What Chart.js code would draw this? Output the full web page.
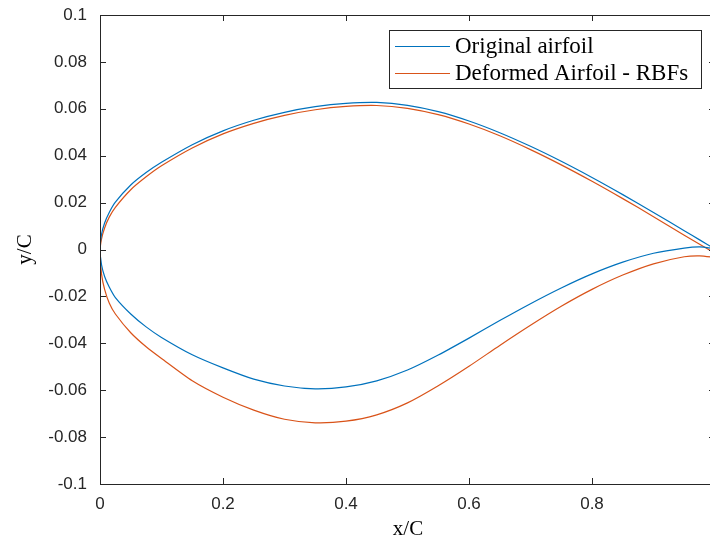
<!DOCTYPE html>
<html>
<head>
<meta charset="utf-8">
<script src="https://cdn.jsdelivr.net/npm/chart.js@4"></script>
<style>
  html, body { margin: 0; padding: 0; background: #fff; overflow: hidden; }
  #wrap { width: 730px; height: 541px; }
</style>
</head>
<body>
<div id="wrap"><canvas id="c" width="730" height="541"></canvas></div>
<script>
// Chordwise stations x/C shared by every surface
const stations = [0, 0.0025, 0.0075, 0.015, 0.025, 0.05, 0.075, 0.1, 0.15, 0.2, 0.25, 0.3, 0.35,
                  0.4, 0.45, 0.5, 0.55, 0.6, 0.65, 0.7, 0.75, 0.8, 0.85, 0.9, 0.95, 0.975, 1.0];

// Original airfoil, y/C of upper and lower surfaces
const origUpper = [0, 0.0065, 0.0113, 0.0158, 0.0202, 0.0275, 0.0328, 0.0372, 0.0447, 0.0506, 0.0551, 0.0585, 0.0609,
                   0.0623, 0.0627, 0.0615, 0.0588, 0.0548, 0.0498, 0.0440, 0.0376, 0.0307, 0.0234, 0.0158, 0.0080, 0.0041, 0.0002];
const origLower = [0, -0.0065, -0.0115, -0.0160, -0.0205, -0.0275, -0.0330, -0.0375, -0.0449, -0.0505, -0.0553, -0.0582, -0.0594,
                   -0.0586, -0.0560, -0.0514, -0.0450, -0.0378, -0.0303, -0.0231, -0.0164, -0.0104, -0.0054, -0.0016, 0.0006, 0.0011, 0.0004];

// Airfoil after the RBF deformation
const defUpper = [-0.0010, 0.0045, 0.0092, 0.0138, 0.0180, 0.0255, 0.0310, 0.0357, 0.0433, 0.0493, 0.0538, 0.0572, 0.0596,
                  0.0610, 0.0614, 0.0602, 0.0575, 0.0535, 0.0485, 0.0426, 0.0361, 0.0291, 0.0217, 0.0140, 0.0061, 0.0022, -0.0016];
const defLower = [-0.0010, -0.0105, -0.0170, -0.0228, -0.0275, -0.0355, -0.0415, -0.0465, -0.0560, -0.0630, -0.0685, -0.0724, -0.0739,
                  -0.0732, -0.0705, -0.0654, -0.0581, -0.0498, -0.0409, -0.0323, -0.0242, -0.0170, -0.0109, -0.0061, -0.0031, -0.0027, -0.0034];

const seriesNames = ['Original airfoil', 'Deformed Airfoil - RBFs'];
const seriesColors = ['#0072BD', '#D95319'];
const xTitle = 'x/C';
const yTitle = 'y/C';

// Contour: trailing edge -> upper surface -> leading edge -> lower surface -> trailing edge
function contour(upper, lower) {
  const pts = [];
  for (let i = stations.length - 1; i >= 0; i--) pts.push({ x: stations[i], y: upper[i] });
  for (let i = 1; i < stations.length; i++) pts.push({ x: stations[i], y: lower[i] });
  return pts;
}

const axisColor = '#262626';
const tickFont = { family: '"Liberation Sans", Arial, sans-serif', size: 17 };
const serif = '"Liberation Serif", "DejaVu Serif", serif';

// Box, inward ticks, legend and axis titles
const framePlugin = {
  id: 'frame',
  afterDraw(chart) {
    const { ctx, chartArea: a, scales: { x, y } } = chart;
    ctx.save();
    ctx.strokeStyle = axisColor;
    ctx.lineWidth = 1;
    ctx.strokeRect(a.left + 0.5, a.top + 0.5, a.right - a.left, a.bottom - a.top);
    ctx.beginPath();
    const tl = 6;
    x.ticks.forEach(t => {
      const px = Math.round(x.getPixelForValue(t.value)) + 0.5;
      ctx.moveTo(px, a.bottom); ctx.lineTo(px, a.bottom - tl);
      ctx.moveTo(px, a.top); ctx.lineTo(px, a.top + tl);
    });
    y.ticks.forEach(t => {
      const py = Math.round(y.getPixelForValue(t.value)) + 0.5;
      ctx.moveTo(a.left, py); ctx.lineTo(a.left + tl, py);
      ctx.moveTo(a.right, py); ctx.lineTo(a.right - tl, py);
    });
    ctx.stroke();

    // legend
    const lx = 389.5, ly = 30.5, lw = 312, lh = 58;
    ctx.fillStyle = '#fff';
    ctx.fillRect(lx, ly, lw, lh);
    ctx.strokeStyle = axisColor;
    ctx.strokeRect(lx, ly, lw, lh);
    ctx.font = '23px ' + serif;
    ctx.textBaseline = 'alphabetic';
    ctx.textAlign = 'left';
    const rows = [46.5, 73.5];
    chart.data.datasets.forEach((ds, i) => {
      ctx.strokeStyle = ds.borderColor;
      ctx.lineWidth = 1;
      ctx.beginPath();
      ctx.moveTo(395, rows[i]); ctx.lineTo(450, rows[i]);
      ctx.stroke();
      ctx.fillStyle = '#000';
      ctx.fillText(ds.label, 455, rows[i] + 6);
    });

    // axis titles
    ctx.fillStyle = '#000';
    ctx.font = '21px ' + serif;
    ctx.textAlign = 'center';
    ctx.fillText(xTitle, 408, 535);
    ctx.translate(31, (a.top + a.bottom) / 2);
    ctx.rotate(-Math.PI / 2);
    ctx.fillText(yTitle, 0, 0);
    ctx.restore();
  }
};

function noEdgePadding(s) {
  s.paddingTop = 0; s.paddingBottom = 0; s.paddingLeft = 0; s.paddingRight = 0;
}

new Chart(document.getElementById('c'), {
  type: 'scatter',
  data: {
    datasets: [
      { label: seriesNames[0], data: contour(origUpper, origLower), borderColor: seriesColors[0] },
      { label: seriesNames[1], data: contour(defUpper, defLower), borderColor: seriesColors[1] }
    ].map(d => Object.assign(d, { showLine: true, pointRadius: 0, borderWidth: 1.2, tension: 0.25, fill: false }))
  },
  options: {
    responsive: false,
    animation: false,
    devicePixelRatio: 1,
    layout: { padding: { left: 0, right: 15, top: 15, bottom: 0 } },
    plugins: { legend: { display: false }, tooltip: { enabled: false } },
    scales: {
      x: {
        type: 'linear', min: 0, max: 1,
        grid: { display: false, drawTicks: false },
        border: { display: false },
        ticks: { stepSize: 0.2, padding: 10, color: axisColor, font: tickFont, maxRotation: 0,
                 callback: v => String(Number(v.toFixed(2))) },
        afterFit: s => { s.height = 57; noEdgePadding(s); }
      },
      y: {
        type: 'linear', min: -0.1, max: 0.1,
        grid: { display: false, drawTicks: false },
        border: { display: false },
        ticks: { stepSize: 0.02, padding: 13, color: axisColor, font: tickFont,
                 callback: v => String(Number(v.toFixed(2))) },
        afterFit: s => { s.width = 100; noEdgePadding(s); }
      }
    }
  },
  plugins: [framePlugin]
});
</script>
</body>
</html>
